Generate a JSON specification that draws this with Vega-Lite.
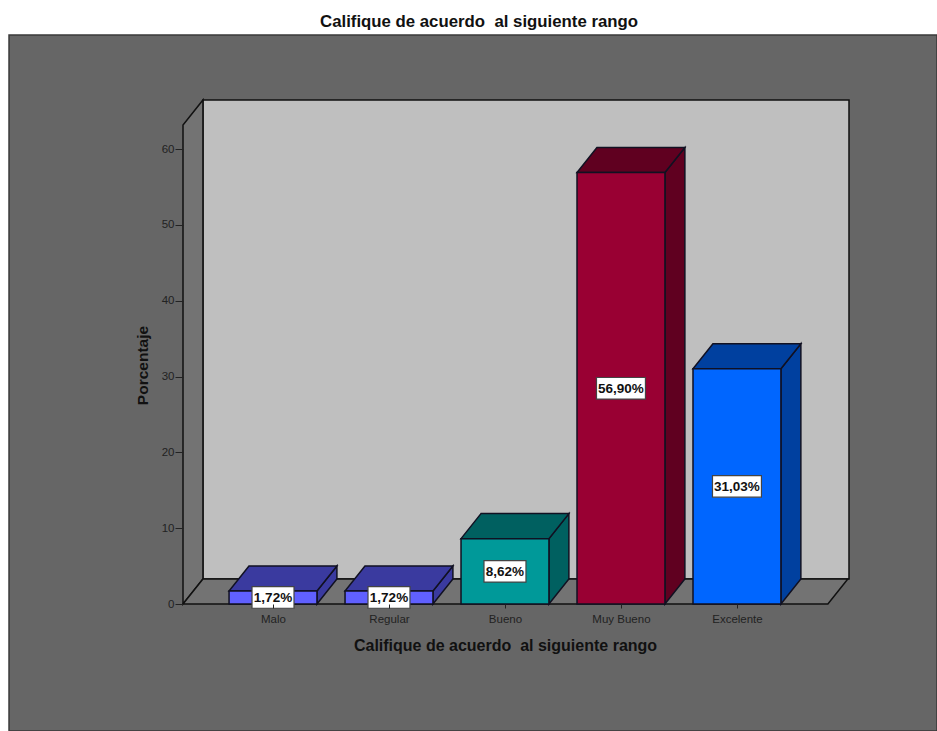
{
"$schema":"https://vega.github.io/schema/vega-lite/v6.json",
"width":666,"height":504,
"autosize":{"type":"none"},
"padding":{"left":183,"top":100,"right":88,"bottom":127},
"background":"white",
"title":{"text":"Califique de acuerdo \u00a0al siguiente rango","font":"Liberation Sans","fontWeight":"bold","fontSize":16.8,"color":"#111111","anchor":"middle","dx":-37,"offset":4},
"config":{"view":{"stroke":null},"font":"Liberation Sans"},
"datasets":{"barras":[
{"categoria":"Malo","indice":0,"porcentaje":1.72},
{"categoria":"Regular","indice":1,"porcentaje":1.72},
{"categoria":"Bueno","indice":2,"porcentaje":8.62},
{"categoria":"Muy Bueno","indice":3,"porcentaje":56.90},
{"categoria":"Excelente","indice":4,"porcentaje":31.03}],
"fondo":[{"d":0},{"d":1}]},
"resolve":{"scale":{"color":"independent"}},
"layer":[
{"data":{"name":"fondo"},"transform":[{"filter":"datum.d==0"}],
 "mark":{"type":"rect","fill":"#666666","stroke":"#3a3a3a","strokeWidth":1.5,"clip":false},
 "encoding":{"x":{"datum":-2.276,"type":"quantitative","scale":{"domain":[-0.776,4.966],"nice":false,"zero":false},
   "axis":{"values":[0,1,2,3,4],"labelExpr":"['Malo','Regular','Bueno','Muy Bueno','Excelente'][datum.value]","title":"Califique de acuerdo \u00a0al siguiente rango","titleFont":"Liberation Sans","titleFontWeight":"bold","titleFontSize":16,"titleColor":"#111111","titleX":322,"titleY":33,"domain":false,"grid":false,"tickColor":"#222222","tickSize":4,"labelFontSize":11.5,"labelColor":"#222222","labelFont":"Liberation Sans","labelPadding":5,"zindex":1}},
  "x2":{"datum":5.724},
  "y":{"datum":-16.75,"type":"quantitative","scale":{"domain":[0,66.47],"nice":false,"zero":false},
   "axis":{"values":[0,10,20,30,40,50,60],"title":"Porcentaje","titleFont":"Liberation Sans","titleFontWeight":"bold","titleFontSize":15.5,"titleColor":"#111111","titleX":-33,"titleY":265,"titleAngle":-90,"domain":false,"grid":false,"tickColor":"#222222","tickSize":8,"labelFontSize":11.5,"labelColor":"#222222","labelFont":"Liberation Sans","labelPadding":1,"zindex":1}},
  "y2":{"datum":75.03}}},
{"data":{"name":"fondo"},"transform":[{"filter":"datum.d==0"}],
 "mark":{"type":"rect","fill":"#bfbfbf","stroke":"#111111","strokeWidth":1.5},
 "encoding":{"x":{"datum":-0.604,"type":"quantitative"},"x2":{"datum":4.966},"y":{"datum":3.3,"type":"quantitative"},"y2":{"datum":66.47}}},
{"data":{"name":"fondo"},"transform":[{"calculate":"-0.776+datum.d*0.172","as":"px"},{"calculate":"datum.d*3.3","as":"py"},{"calculate":"63.17+datum.d*3.3","as":"py2"}],
 "mark":{"type":"area","fill":"#737373","stroke":"#111111","strokeWidth":1.5,"orient":"vertical"},
 "encoding":{"x":{"field":"px","type":"quantitative"},"y":{"field":"py","type":"quantitative"},"y2":{"field":"py2"}}},
{"data":{"name":"fondo"},"transform":[{"calculate":"datum.d*3.3","as":"py"},{"calculate":"-0.776+datum.d*0.172","as":"px"},{"calculate":"4.784+datum.d*0.172","as":"px2"}],
 "mark":{"type":"area","fill":"#737373","stroke":"#111111","strokeWidth":1.5,"orient":"horizontal"},
 "encoding":{"y":{"field":"py","type":"quantitative"},"x":{"field":"px","type":"quantitative"},"x2":{"field":"px2"}}},
{"data":{"name":"barras"},"transform":[{"calculate":"[0,1]","as":"d"},{"flatten":["d"]},{"calculate":"datum.indice+0.379+datum.d*0.172","as":"px"},{"calculate":"datum.d*3.3","as":"py"},{"calculate":"datum.porcentaje+datum.d*3.3","as":"py2"}],
 "mark":{"type":"area","stroke":"#111122","strokeWidth":1.5,"orient":"vertical"},
 "encoding":{"x":{"field":"px","type":"quantitative"},"y":{"field":"py","type":"quantitative"},"y2":{"field":"py2"},"detail":{"field":"categoria"},
  "color":{"field":"categoria","type":"nominal","legend":null,"scale":{"domain":["Malo","Regular","Bueno","Muy Bueno","Excelente"],"range":["#3a3a9f","#3a3a9f","#006060","#600020","#00409f"]}}}},
{"data":{"name":"barras"},"transform":[{"calculate":"[0,1]","as":"d"},{"flatten":["d"]},{"calculate":"datum.indice-0.379+datum.d*0.172","as":"px"},{"calculate":"datum.indice+0.379+datum.d*0.172","as":"px2"},{"calculate":"datum.porcentaje+datum.d*3.3","as":"py"}],
 "mark":{"type":"area","stroke":"#111122","strokeWidth":1.5,"orient":"horizontal"},
 "encoding":{"y":{"field":"py","type":"quantitative"},"x":{"field":"px","type":"quantitative"},"x2":{"field":"px2"},"detail":{"field":"categoria"},
  "color":{"field":"categoria","type":"nominal","legend":null,"scale":{"domain":["Malo","Regular","Bueno","Muy Bueno","Excelente"],"range":["#3a3a9f","#3a3a9f","#006060","#600020","#00409f"]}}}},
{"data":{"name":"barras"},"transform":[{"calculate":"datum.indice-0.379","as":"px"},{"calculate":"datum.indice+0.379","as":"px2"},{"calculate":"0","as":"base"}],
 "mark":{"type":"rect","stroke":"#111122","strokeWidth":1.5},
 "encoding":{"x":{"field":"px","type":"quantitative"},"x2":{"field":"px2"},"y":{"field":"porcentaje","type":"quantitative"},"y2":{"field":"base"},
  "color":{"field":"categoria","type":"nominal","legend":null,"scale":{"domain":["Malo","Regular","Bueno","Muy Bueno","Excelente"],"range":["#6060ff","#6060ff","#009999","#990033","#0066ff"]}}}},
{"data":{"name":"barras"},"transform":[{"calculate":"datum.porcentaje<10?0.181:0.211","as":"mw"},{"calculate":"datum.indice-datum.mw","as":"px"},{"calculate":"datum.indice+datum.mw","as":"px2"},{"calculate":"datum.porcentaje/2-1.42","as":"py"},{"calculate":"datum.porcentaje/2+1.42","as":"py2"}],
 "mark":{"type":"rect","fill":"#ffffff","stroke":"#444444","strokeWidth":1.2},
 "encoding":{"x":{"field":"px","type":"quantitative"},"x2":{"field":"px2"},"y":{"field":"py","type":"quantitative"},"y2":{"field":"py2"}}},
{"data":{"name":"barras"},"transform":[{"calculate":"replace(format(datum.porcentaje,'.2f'),'.',',')+'%'","as":"etiqueta"},{"calculate":"datum.porcentaje/2","as":"py"}],
 "mark":{"type":"text","font":"Liberation Sans","fontWeight":"bold","fontSize":13.5,"color":"#111111","align":"center","baseline":"middle","dy":1},
 "encoding":{"x":{"field":"indice","type":"quantitative"},"y":{"field":"py","type":"quantitative"},"text":{"field":"etiqueta"}}}
]}
